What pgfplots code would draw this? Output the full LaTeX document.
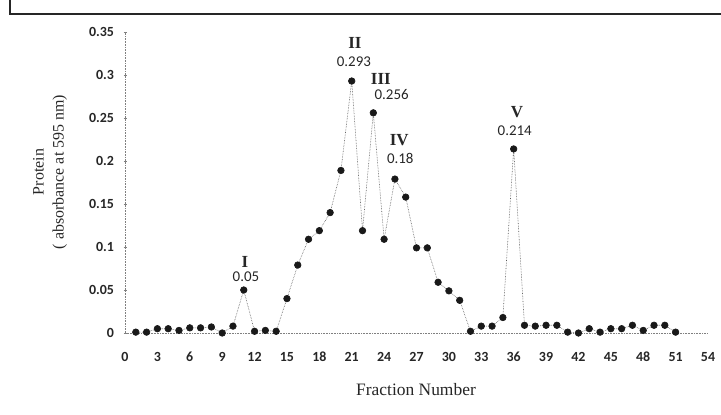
\documentclass[border=0pt]{standalone}
\usepackage{pgfplots}
\pgfplotsset{compat=1.18}
\usepackage{fontspec}
\setmainfont{Liberation Serif}
\newfontfamily\carlito{Carlito}
\begin{document}
\begin{tikzpicture}[x=1bp,y=1bp]
\useasboundingbox (0,0) rectangle (721,414);
\draw[line width=2bp,black!85] (10,414) -- (10,400) -- (721,400);
\begin{axis}[
  at={(125bp,81bp)}, anchor=south west,
  scale only axis, width=583bp, height=301bp,
  xmin=0, xmax=54, ymin=0, ymax=0.35,
  axis x line=bottom, axis y line=left,
  axis line style={densely dotted, gray, line width=0.6pt, -},
  xtick={0,3,...,54},
  ytick={0,0.05,...,0.35},
  yticklabels={0,0.05,0.1,0.15,0.2,0.25,0.3,0.35},
  tick style={gray, densely dotted},
  major tick length=3bp,
  xtick style={draw=none},
  ytick pos=left,
  /pgf/number format/assume math mode=true,
  ticklabel style={font=\carlito\bfseries\fontsize{14}{16}\selectfont, black!85},
  xticklabel style={yshift=-14bp},
  yticklabel style={xshift=-6bp},
  clip=false,
]
\addplot[densely dotted, black!65, line width=0.6pt, mark=*, mark size=3.3bp,
  mark options={solid, fill=black!90, draw=black!90}] coordinates {
(1,0.001)(2,0.001)(3,0.005)(4,0.005)(5,0.003)(6,0.006)(7,0.006)(8,0.007)(9,0.0)(10,0.008)
(11,0.05)(12,0.002)(13,0.003)(14,0.002)(15,0.04)(16,0.079)(17,0.109)(18,0.119)(19,0.14)(20,0.189)
(21,0.293)(22,0.119)(23,0.256)(24,0.109)(25,0.179)(26,0.158)(27,0.099)(28,0.099)(29,0.059)(30,0.049)
(31,0.038)(32,0.002)(33,0.008)(34,0.008)(35,0.018)(36,0.214)(37,0.009)(38,0.008)(39,0.009)(40,0.009)
(41,0.001)(42,0.0)(43,0.005)(44,0.001)(45,0.005)(46,0.005)(47,0.009)(48,0.003)(49,0.009)(50,0.009)
(51,0.001)
};
\tikzset{rn/.style={font=\bfseries\fontsize{17}{19}\selectfont, black!85, inner sep=0pt, anchor=base},
         vl/.style={font=\carlito\fontsize{15}{17}\selectfont, black!85, inner sep=0pt, anchor=base}}
\node[rn] at (axis cs:11.1,0.076) {I};
\node[vl] at (axis cs:11.2,0.060) {0.05};
\node[rn] at (axis cs:21.3,0.331) {II};
\node[vl] at (axis cs:21.2,0.310) {0.293};
\node[rn] at (axis cs:23.7,0.289) {III};
\node[vl] at (axis cs:24.7,0.272) {0.256};
\node[rn] at (axis cs:25.4,0.218) {IV};
\node[vl] at (axis cs:25.5,0.197) {0.18};
\node[rn] at (axis cs:36.3,0.251) {V};
\node[vl] at (axis cs:36.1,0.230) {0.214};
\end{axis}
\node[rotate=90, align=center, font=\fontsize{16}{20}\selectfont, black!85] at (50,242) {Protein\\( absorbance at 595 nm)};
\node[font=\fontsize{17.5}{19}\selectfont, black!85] at (416,24) {Fraction Number};
\end{tikzpicture}
\end{document}
